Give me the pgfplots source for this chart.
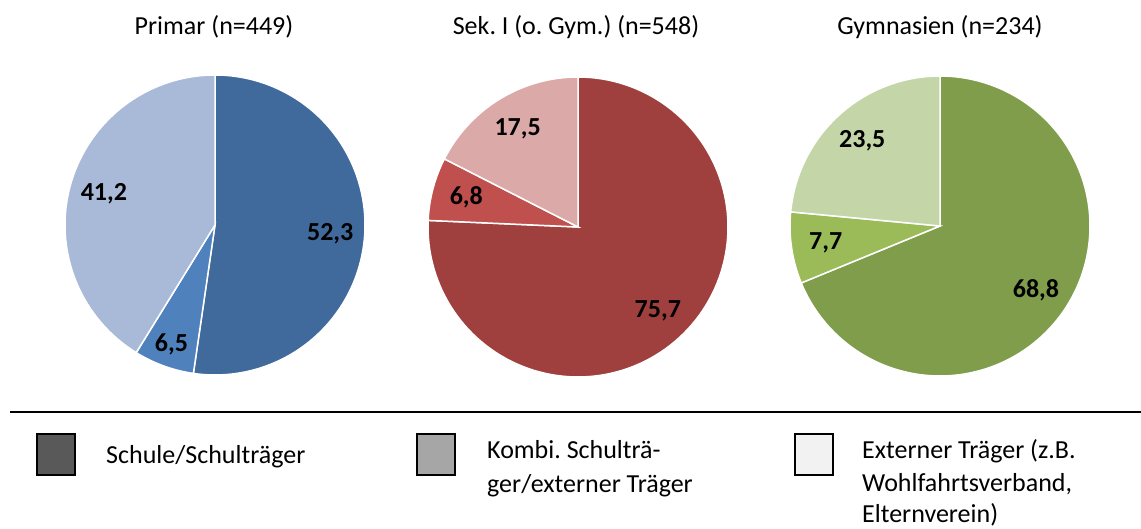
\documentclass[border=0pt]{standalone}
\usepackage{pgfplots}
\pgfplotsset{compat=1.18}
\usepackage{fontspec}
\setmainfont{Carlito}[BoldFont={Carlito Bold}]
\frenchspacing

\definecolor{pAa}{RGB}{64,106,156}
\definecolor{pAb}{RGB}{79,129,189}
\definecolor{pAc}{RGB}{169,185,216}
\definecolor{pBa}{RGB}{159,64,62}
\definecolor{pBb}{RGB}{192,80,77}
\definecolor{pBc}{RGB}{218,169,168}
\definecolor{pCa}{RGB}{127,157,74}
\definecolor{pCb}{RGB}{155,187,89}
\definecolor{pCc}{RGB}{196,214,168}
\definecolor{legA}{RGB}{89,89,89}
\definecolor{legB}{RGB}{166,166,166}
\definecolor{legC}{RGB}{242,242,242}

\pgfkeys{/pgf/number format/.cd, fixed, precision=1, fixed zerofill, use comma, assume math mode=true}

% #1 centre x (pt), #2 centre y (pt), #3 #4 #5 shares, #6 colour prefix, #7 radius of middle label
\newcommand\drawpie[7]{%
  \pgfmathsetmacro\aA{90}%
  \pgfmathsetmacro\aB{90-3.6*#3}%
  \pgfmathsetmacro\aC{\aB-3.6*#4}%
  \pgfmathsetmacro\aD{-270}%
  \pgfmathsetmacro\mA{(\aA+\aB)/2}%
  \pgfmathsetmacro\mB{(\aB+\aC)/2}%
  \pgfmathsetmacro\mC{(\aC+\aD)/2}%
  \begin{axis}[at={(#1pt,#2pt)}, anchor=center, x=150pt, y=150pt,
      xmin=-1, xmax=1, ymin=-1, ymax=1, hide axis, clip=false,
      every node/.append style={font=\fontsize{26}{31}\selectfont}]
    \addplot[draw=white, line width=1.5pt, fill=#6a, domain=\aB:\aA, samples=120, variable=\t]
      ({cos(\t)},{sin(\t)}) -- (axis cs:0,0) -- cycle;
    \addplot[draw=white, line width=1.5pt, fill=#6b, domain=\aC:\aB, samples=40, variable=\t]
      ({cos(\t)},{sin(\t)}) -- (axis cs:0,0) -- cycle;
    \addplot[draw=white, line width=1.5pt, fill=#6c, domain=\aD:\aC, samples=80, variable=\t]
      ({cos(\t)},{sin(\t)}) -- (axis cs:0,0) -- cycle;
    \node at (axis cs:{0.77*cos(\mA)},{0.77*sin(\mA)}) {\textbf{\pgfmathprintnumber{#3}}};
    \node at (axis cs:{#7*cos(\mB)},{#7*sin(\mB)}) {\textbf{\pgfmathprintnumber{#4}}};
    \node at (axis cs:{0.77*cos(\mC)},{0.77*sin(\mC)}) {\textbf{\pgfmathprintnumber{#5}}};
  \end{axis}%
}

\begin{document}
\begin{tikzpicture}[font=\fontsize{26}{33}\selectfont]
  \useasboundingbox (0,0) rectangle (1141pt,529pt);

  \drawpie{215}{304}{52.3}{6.5}{41.2}{pA}{0.85}
  \drawpie{578}{302}{75.7}{6.8}{17.5}{pB}{0.77}
  \drawpie{940}{303}{68.8}{7.7}{23.5}{pC}{0.77}

  \node[anchor=base] at (214pt,494pt) {Primar (n=449)};
  \node[anchor=base] at (576pt,494pt) {Sek. I (o. Gym.) (n=548)};
  \node[anchor=base] at (940pt,494pt) {Gymnasien (n=234)};

  \draw[line width=2pt] (10pt,117pt) -- (1141pt,117pt);

  \draw[line width=2pt, fill=legA] (37pt,95pt) rectangle (75pt,54pt);
  \draw[line width=2pt, fill=legB] (417pt,95pt) rectangle (455pt,54pt);
  \draw[line width=2pt, fill=legC] (795pt,95pt) rectangle (833pt,54pt);

  \node[anchor=base west, inner sep=0pt] at (106pt,65pt) {Schule/Schulträger};
  \node[anchor=base west, inner sep=0pt] at (487pt,70pt) {Kombi. Schulträ-};
  \node[anchor=base west, inner sep=0pt] at (487pt,36pt) {ger/externer Träger};
  \node[anchor=base west, inner sep=0pt] at (862pt,70pt) {Externer Träger (z.B.};
  \node[anchor=base west, inner sep=0pt] at (862pt,37pt) {Wohlfahrtsverband,};
  \node[anchor=base west, inner sep=0pt] at (862pt,6pt) {Elternverein)};
\end{tikzpicture}
\end{document}
